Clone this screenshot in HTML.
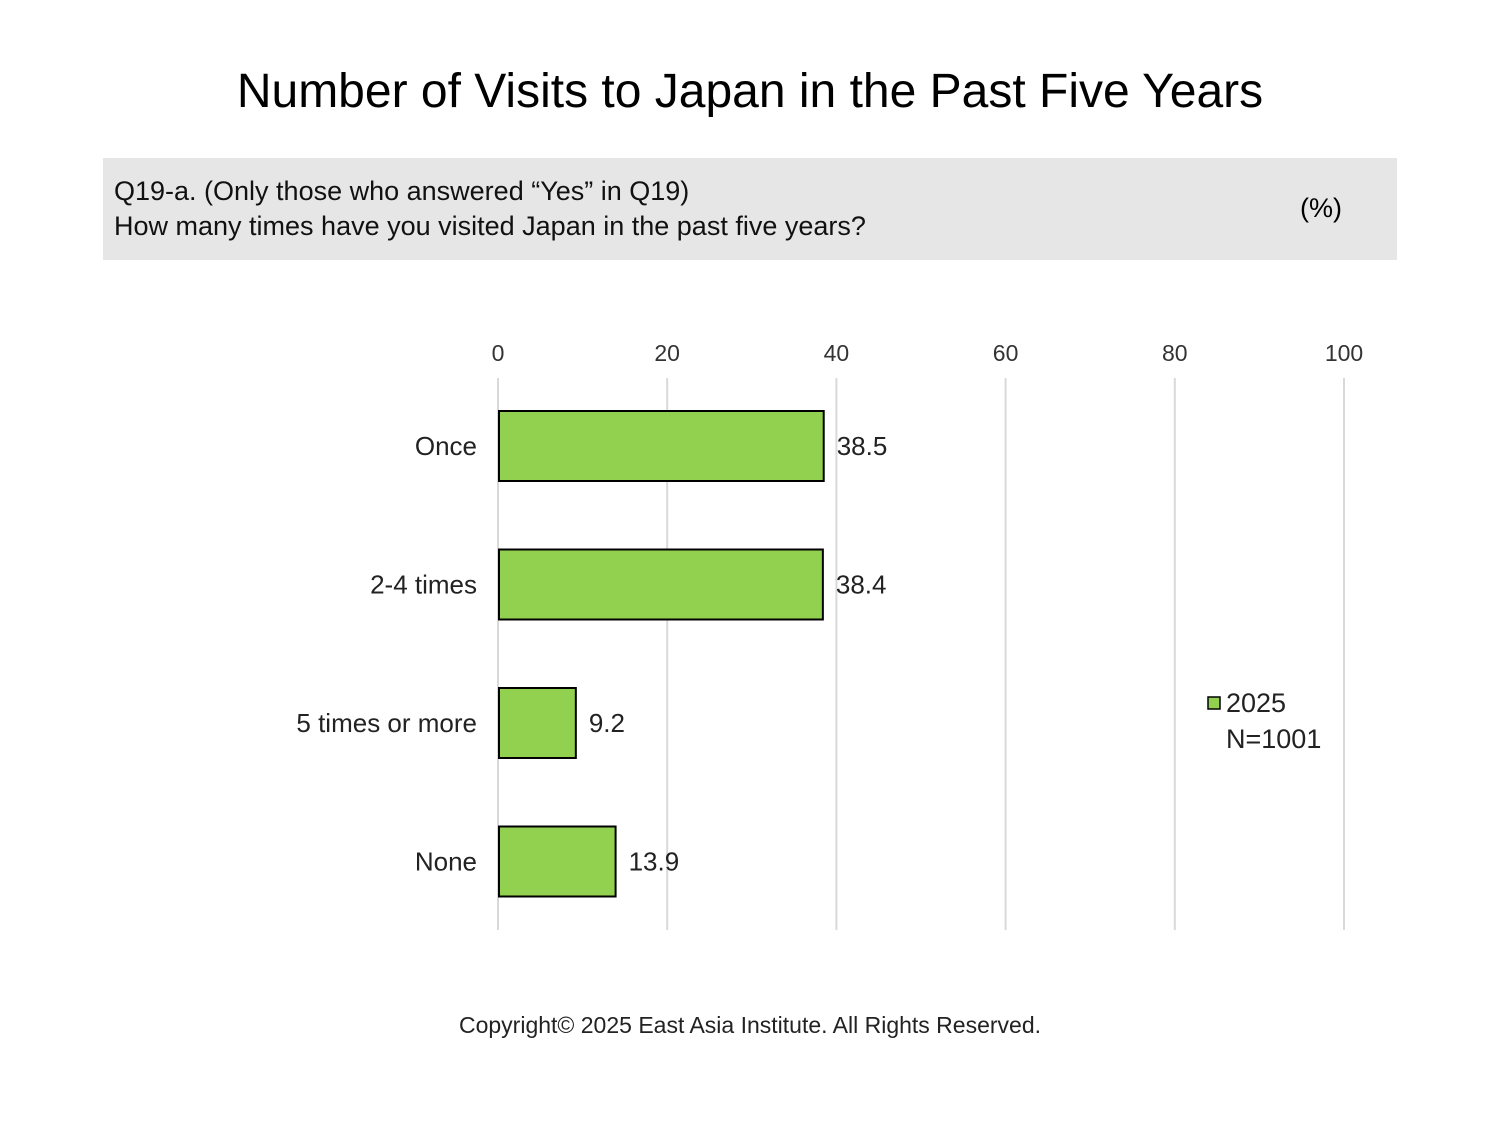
<!DOCTYPE html>
<html><head><meta charset="utf-8"><style>
body{margin:0;width:1500px;height:1125px;background:#fff;font-family:"Liberation Sans","Noto Sans CJK KR",sans-serif;overflow:hidden;position:relative}
.t{position:absolute;white-space:nowrap;color:#000}
</style></head><body>
<div class="t" style="left:0;width:1500px;text-align:center;top:64px;font-size:48px;">Number of Visits to Japan in the Past Five Years</div>
<div style="position:absolute;left:103px;top:158px;width:1294px;height:102px;background:#e7e6e6"></div>
<div class="t" style="left:114px;top:174px;font-size:27px;line-height:35px;color:#111">Q19-a. (Only those who answered “Yes” in Q19)<br>How many times have you visited Japan in the past five years?</div>
<div class="t" style="left:1300px;top:193px;font-size:27px;">(%)</div>
<svg id="chart" width="1500" height="1125" style="position:absolute;left:0;top:0"></svg>
<div class="t" style="left:0;width:1500px;text-align:center;top:1012px;font-size:23px;color:#222">Copyright© 2025 East Asia Institute. All Rights Reserved.</div>
<script>
const categories=["Once","2-4 times","5 times or more","None"];
const values=[38.5,38.4,9.2,13.9];
const ticks=[0,20,40,60,80,100];
const svg=document.getElementById('chart');
const NS='http://www.w3.org/2000/svg';
const x0=498,x1=1344,yTop=378,yBot=930,catY0=446,catStep=138.5,barH=70;
const xs=v=>x0+(v/100)*(x1-x0);
function mk(tag,attrs,txt){const e=document.createElementNS(NS,tag);for(const k in attrs)e.setAttribute(k,attrs[k]);if(txt!==undefined)e.textContent=txt;svg.appendChild(e);return e;}
ticks.forEach(t=>{
 const g=mk('line',{x1:xs(t),x2:xs(t),y1:yTop,y2:yBot,stroke:'#d9d9d9','stroke-width':2});
 
 
 const l=mk('text',{x:xs(t),y:361,'text-anchor':'middle','font-size':23,fill:'#333','font-family':'Liberation Sans, sans-serif'},t);
 
 
});
categories.forEach((c,i)=>{
 const cy=catY0+i*catStep;
 const r=mk('rect',{x:x0+1,y:cy-barH/2,width:xs(values[i])-x0-1,height:barH,fill:'#92d050',stroke:'#000','stroke-width':2});
 
 
 const lab=mk('text',{x:477,y:cy+9,'text-anchor':'end','font-size':26,fill:'#222','font-family':'Liberation Sans, sans-serif'},c);
 
 
 const v=mk('text',{x:xs(values[i])+13,y:cy+9,'font-size':26,fill:'#222','font-family':'Liberation Sans, sans-serif'},values[i].toFixed(1));
 
 
});
const lk=mk('rect',{x:1208,y:697,width:12,height:12,fill:'#92d050',stroke:'#000','stroke-width':1.5});


const lt=mk('text',{x:1226,y:712,'font-size':27,fill:'#222','font-family':'Liberation Sans, sans-serif'},'2025');


const ln=mk('text',{x:1226,y:748,'font-size':27,fill:'#222','font-family':'Liberation Sans, sans-serif'},'N=1001');


</script>
</body></html>
